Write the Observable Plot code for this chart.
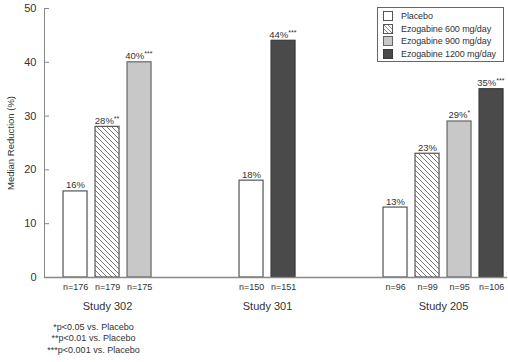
<!DOCTYPE html>
<html>
<head>
<meta charset="utf-8">
<script src="https://cdn.jsdelivr.net/npm/d3@7"></script>
<script src="https://cdn.jsdelivr.net/npm/@observablehq/plot@0.6"></script>
<style>
  html, body { margin: 0; padding: 0; background: #fff; }
  #wrap { position: relative; width: 508px; height: 362px; font-family: "Liberation Sans", Arial, sans-serif; }
  #legend { position: absolute; left: 377px; top: 7px; width: 127px; height: 55px; border: 1px solid #666; background: #fff;
            font-size: 9px; letter-spacing: -0.1px; color: #333; padding: 2px 0 0 5px; box-sizing: border-box; white-space: nowrap; }
  .row { display: flex; align-items: center; height: 12.5px; }
  .row svg { margin-right: 8px; flex: none; }
</style>
</head>
<body>
<div id="wrap"><div id="legend"></div></div>
<script>
// ---- data ----
const studies = ["Study 302", "Study 301", "Study 205"];
const groups = ["Placebo", "Ezogabine 600 mg/day", "Ezogabine 900 mg/day", "Ezogabine 1200 mg/day"];
const values302 = [16, 28, 40, null];
const values301 = [18, null, null, 44];
const values205 = [13, 23, 29, 35];
const n302 = [176, 179, 175, null];
const n301 = [150, null, null, 151];
const n205 = [96, 99, 95, 106];
const sig302 = ["", "**", "***", ""];
const sig301 = ["", "", "", "***"];
const sig205 = ["", "", "*", "***"];
const yTicks = [0, 10, 20, 30, 40, 50];
const footnotes = ["*p<0.05 vs. Placebo", "**p<0.01 vs. Placebo", "***p<0.001 vs. Placebo"];

// ---- styles ----
const fills = ["#ffffff", "url(#hatch)", "#c8c8c8", "#4a4a4a"];
const strokes = ["#555", "#555", "#666", "#3a3a3a"];

// ---- build rows with slot layout ----
const allVals = [values302, values301, values205];
const allN = [n302, n301, n205];
const allSig = [sig302, sig301, sig205];
const gap = 3.5;
let rows = [], studyCenters = [];
let slot = 0;
studies.forEach((s, si) => {
  const start = slot;
  let k = 0;
  groups.forEach((g, gi) => {
    const v = allVals[si][gi];
    if (v == null) return;
    rows.push({study: s, group: gi, value: v, n: allN[si][gi], sig: allSig[si][gi], pos: start + k});
    k++;
  });
  const end = start + k - 1;
  studyCenters.push({study: s, pos: (start + end) / 2});
  slot = end + gap;
});

const W = 508, H = 362, mL = 44, mR = 1;
const pxPerSlot = 32;
const xMin = -0.97;
const xMax = xMin + (W - mL - mR) / pxPerSlot;
const half = 12 / pxPerSlot;
const txt = "#333";

const barMarks = groups.map((g, gi) => Plot.rectY(rows.filter(d => d.group === gi), {
  x1: d => d.pos - half, x2: d => d.pos + half, y1: 0, y2: "value",
  fill: fills[gi], stroke: strokes[gi], strokeWidth: 1.2
}));

const labelMarks = [0, 1, 2, 3].flatMap(ns => {
  const sub = rows.filter(d => d.sig.length === ns);
  const m = [Plot.text(sub, {x: "pos", y: "value", text: d => d.value + "%", lineAnchor: "bottom", dy: -3,
    dx: -ns * 1.6, fontSize: 9.5, fill: txt})];
  if (ns > 0) m.push(Plot.text(sub, {x: "pos", y: "value", text: "sig", textAnchor: "start", lineAnchor: "bottom", dy: -6,
    dx: 9.5 - ns * 1.6, fontSize: 7, fill: txt}));
  return m;
});

const plot = Plot.plot({
  width: W, height: H,
  marginLeft: mL, marginRight: mR, marginTop: 8, marginBottom: 85,
  style: {fontFamily: '"Liberation Sans", Arial, sans-serif', color: txt, background: "transparent"},
  x: {domain: [xMin, xMax], axis: null},
  y: {domain: [0, 50], axis: null},
  marks: [
    ...barMarks,
    Plot.ruleX([xMin], {y1: 0, y2: 50, stroke: "#888", strokeWidth: 1}),
    Plot.ruleY([0], {x1: xMin, x2: xMax, stroke: "#888", strokeWidth: 1.5}),
    Plot.ruleY(yTicks.filter(t => t > 0), {x1: xMin, x2: xMin + 5 / pxPerSlot, stroke: "#888"}),
    Plot.text(yTicks, {x: xMin, y: d => d, text: d => String(d), textAnchor: "end", dx: -8, fontSize: 11, fill: txt}),
    Plot.text(["Median Reduction (%)"], {frameAnchor: "left", textAnchor: "middle", dx: -34, rotate: -90, fontSize: 9.5, fill: txt}),
    ...labelMarks,
    // n labels
    Plot.text(rows, {x: "pos", y: 0, text: d => "n=" + d.n, dy: 10, fontSize: 9, fill: txt}),
    // study labels
    Plot.text(studyCenters, {x: "pos", y: 0, text: "study", dy: 29, fontSize: 11, fill: txt}),
    // footnotes
    Plot.text([footnotes.join("\n")], {frameAnchor: "bottom-left", textAnchor: "middle", lineAnchor: "middle",
      dx: 49, dy: 60, lineHeight: 1.3, fontSize: 9, fill: txt})
  ]
});

// hatch pattern
const svgNS = "http://www.w3.org/2000/svg";
const defs = document.createElementNS(svgNS, "defs");
defs.innerHTML = '<pattern id="hatch" patternUnits="userSpaceOnUse" width="5" height="5">' +
  '<rect width="5" height="5" fill="#fff"/>' +
  '<path d="M0,0 L5,5 M-1,4 L1,6 M4,-1 L6,1" stroke="#555" stroke-width="0.8"/></pattern>';
plot.insertBefore(defs, plot.firstChild);
document.getElementById("wrap").insertBefore(plot, document.getElementById("legend"));

// legend
const legend = document.getElementById("legend");
groups.forEach((g, gi) => {
  const row = document.createElement("div");
  row.className = "row";
  row.innerHTML = '<svg width="10" height="10"><defs><pattern id="hatchL' + gi + '" patternUnits="userSpaceOnUse" width="4" height="4">' +
    '<rect width="4" height="4" fill="#fff"/><path d="M0,0 L4,4 M-1,3 L1,5 M3,-1 L5,1" stroke="#555" stroke-width="0.7"/></pattern></defs>' +
    '<rect x="0.5" y="0.5" width="9" height="9" fill="' + (gi === 1 ? "url(#hatchL" + gi + ")" : fills[gi]) + '" stroke="' + strokes[gi] + '"/></svg>' +
    '<span>' + g + '</span>';
  legend.appendChild(row);
});
</script>
</body>
</html>
